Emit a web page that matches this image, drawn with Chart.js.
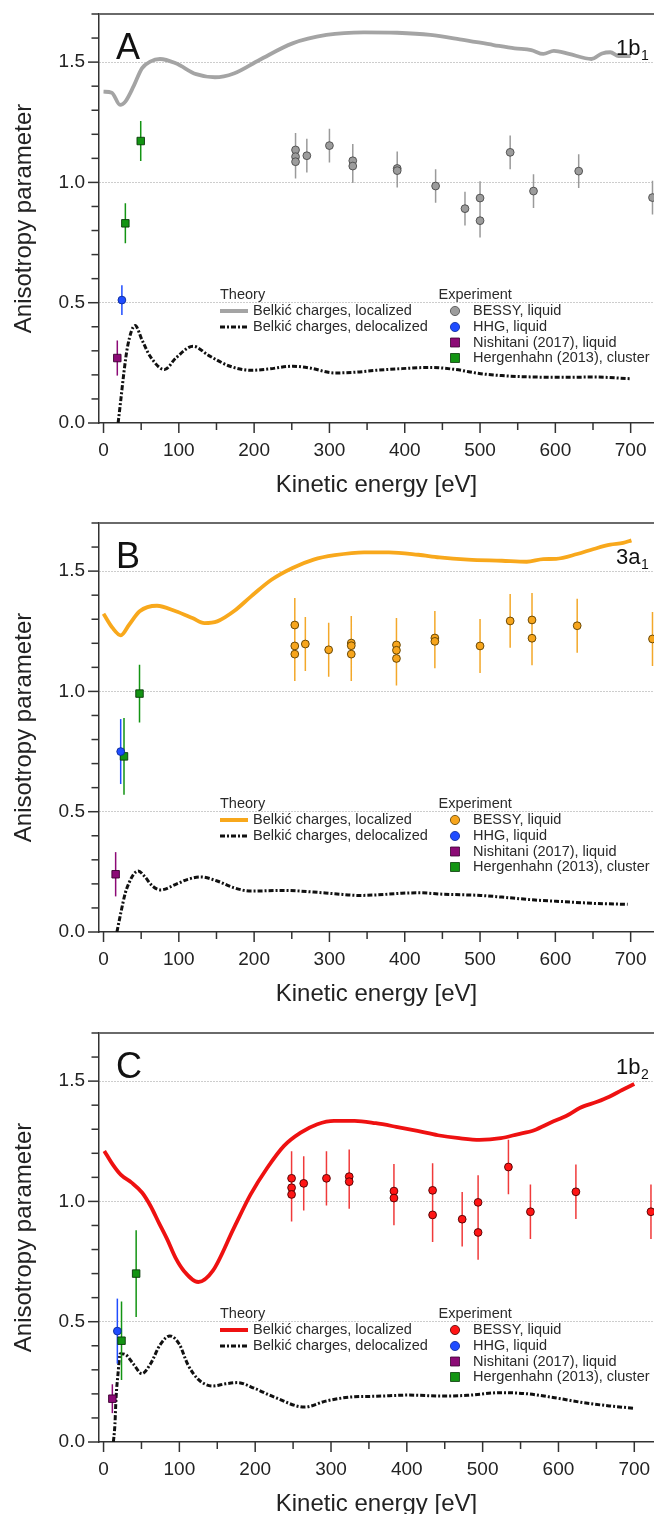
<!DOCTYPE html>
<html><head><meta charset="utf-8">
<script src="https://cdn.jsdelivr.net/npm/chart.js@4.4.0/dist/chart.umd.min.js"></script>
<style>
html,body{margin:0;padding:0;background:#fff;overflow:hidden;width:654px;height:1514px;position:relative;}
.p{position:absolute;left:0;width:654px;height:509px;}
canvas{display:block;}
</style></head><body>
<div class="p" style="top:0px"><canvas id="cA" width="654" height="509"></canvas></div>
<div class="p" style="top:509px"><canvas id="cB" width="654" height="509"></canvas></div>
<div class="p" style="top:1019px"><canvas id="cC" width="654" height="509"></canvas></div>
<script>
// ---------- tick values / labels ----------
const xTickValues = [0, 100, 200, 300, 400, 500, 600, 700];
const xMinorTicks = [50, 150, 250, 350, 450, 550, 650];
const yTickValues = [0, 0.5, 1.0, 1.5];
const yMinorTicks = [0.1, 0.2, 0.3, 0.4, 0.6, 0.7, 0.8, 0.9, 1.1, 1.2, 1.3, 1.4, 1.6, 1.7];
const xTitle = 'Kinetic energy [eV]';
const yTitle = 'Anisotropy parameter';
const theoryHeader = 'Theory';
const theoryLabels = ['Belkić charges, localized', 'Belkić charges, delocalized'];
const experimentHeader = 'Experiment';
const experimentLabels = ['BESSY, liquid', 'HHG, liquid', 'Nishitani (2017), liquid', 'Hergenhahn (2013), cluster'];

// ---------- Panel A (1b1) ----------
const locA_x = [0, 11, 22, 29, 40, 51, 62, 75, 96, 123, 148, 173, 207, 251, 296, 346, 390, 434, 473, 518, 546, 568, 584, 598, 618, 648, 662, 673, 684, 700];
const locA_y = [1.377, 1.373, 1.322, 1.336, 1.40, 1.474, 1.502, 1.513, 1.495, 1.45, 1.437, 1.453, 1.509, 1.578, 1.613, 1.624, 1.622, 1.613, 1.595, 1.571, 1.557, 1.55, 1.534, 1.547, 1.534, 1.513, 1.536, 1.541, 1.525, 1.525];
const delA_x = [19.4, 23, 27, 32, 42, 51, 62, 81, 96, 119, 140, 168, 196, 218, 251, 273, 307, 334, 362, 396, 434, 468, 501, 529, 573, 612, 651, 700];
const delA_y = [0, 0.097, 0.208, 0.319, 0.405, 0.346, 0.277, 0.222, 0.270, 0.319, 0.280, 0.236, 0.219, 0.224, 0.236, 0.229, 0.208, 0.211, 0.219, 0.226, 0.231, 0.222, 0.205, 0.197, 0.191, 0.190, 0.191, 0.184];
const bessyA_x = [255, 255, 255, 270, 300, 331, 331, 390, 390, 441, 480, 500, 500, 540, 571, 631, 729];
const bessyA_y = [1.135, 1.107, 1.086, 1.111, 1.153, 1.090, 1.068, 1.058, 1.049, 0.985, 0.891, 0.935, 0.841, 1.125, 0.964, 1.047, 0.937];
const bessyA_e = [0.07, 0.07, 0.07, 0.07, 0.07, 0.07, 0.07, 0.07, 0.07, 0.07, 0.07, 0.07, 0.07, 0.07, 0.07, 0.07, 0.07];
const hhgA_x = [24.4], hhgA_y = [0.511], hhgA_e = [0.062];
const nishA_x = [18.3], nishA_y = [0.270], nishA_e = [0.073];
const hergA_x = [29, 49.4], hergA_y = [0.83, 1.172], hergA_e = [0.083, 0.083];

// ---------- Panel B (3a1) ----------
const locB_x = [0, 12, 23, 34, 48, 71, 96, 118, 134, 151, 173, 196, 223, 251, 279, 307, 346, 379, 418, 446, 484, 529, 562, 584, 601, 629, 651, 673, 690, 701];
const locB_y = [1.323, 1.264, 1.233, 1.277, 1.333, 1.356, 1.333, 1.305, 1.284, 1.291, 1.333, 1.395, 1.464, 1.513, 1.548, 1.566, 1.578, 1.578, 1.568, 1.557, 1.548, 1.543, 1.539, 1.550, 1.551, 1.571, 1.592, 1.610, 1.617, 1.628];
const delB_x = [17.8, 23, 29, 34, 40, 46, 54, 65, 76, 96, 112, 129, 151, 173, 196, 240, 279, 307, 340, 362, 396, 418, 451, 501, 529, 573, 612, 651, 696];
const delB_y = [0, 0.080, 0.163, 0.205, 0.240, 0.254, 0.233, 0.191, 0.175, 0.198, 0.219, 0.229, 0.212, 0.184, 0.170, 0.173, 0.166, 0.159, 0.152, 0.154, 0.161, 0.163, 0.157, 0.152, 0.145, 0.133, 0.126, 0.119, 0.115];
const bessyB_x = [254, 254, 254, 268, 299, 329, 329, 329, 389, 389, 389, 440, 440, 500, 540, 569, 569, 629, 729];
const bessyB_y = [1.276, 1.189, 1.155, 1.197, 1.173, 1.201, 1.190, 1.155, 1.193, 1.171, 1.137, 1.222, 1.208, 1.189, 1.293, 1.297, 1.221, 1.273, 1.218];
const bessyB_e = [0.112, 0.112, 0.112, 0.112, 0.112, 0.112, 0.112, 0.112, 0.112, 0.112, 0.112, 0.112, 0.112, 0.112, 0.112, 0.112, 0.112, 0.112, 0.112];
const hhgB_x = [22.8], hhgB_y = [0.750], hhgB_e = [0.135];
const nishB_x = [16.1], nishB_y = [0.240], nishB_e = [0.092];
const hergB_x = [27.2, 47.8], hergB_y = [0.730, 0.991], hergB_e = [0.16, 0.12];

// ---------- Panel C (1b2) ----------
const locC_x = [1, 12, 23, 37, 51, 62, 73, 84, 95, 106, 125, 144, 172, 194, 216, 238, 260, 282, 304, 331, 359, 386, 414, 441, 469, 496, 524, 546, 568, 590, 612, 628, 651, 667, 684, 700];
const locC_y = [1.21, 1.154, 1.110, 1.078, 1.036, 0.981, 0.911, 0.842, 0.765, 0.711, 0.665, 0.711, 0.890, 1.029, 1.14, 1.231, 1.286, 1.321, 1.335, 1.335, 1.325, 1.31, 1.293, 1.275, 1.263, 1.256, 1.263, 1.279, 1.296, 1.328, 1.358, 1.388, 1.414, 1.435, 1.463, 1.488];
const delC_x = [13, 15, 16.5, 19, 22, 28.6, 39.6, 50.6, 61.6, 75, 87.5, 100, 111, 125, 144, 161, 177, 199, 227, 265, 293, 326, 359, 403, 447, 480, 524, 557, 595, 634, 667, 700];
const delC_y = [0, 0.073, 0.184, 0.281, 0.367, 0.364, 0.323, 0.284, 0.323, 0.406, 0.441, 0.406, 0.323, 0.260, 0.233, 0.242, 0.247, 0.223, 0.184, 0.145, 0.170, 0.187, 0.190, 0.195, 0.191, 0.194, 0.205, 0.201, 0.184, 0.163, 0.150, 0.140];
const bessyC_x = [248, 248, 248, 264, 294, 324, 324, 383, 383, 434, 434, 473, 494, 494, 534, 563, 623, 722];
const bessyC_y = [1.096, 1.057, 1.029, 1.075, 1.096, 1.103, 1.082, 1.043, 1.014, 1.046, 0.944, 0.926, 0.996, 0.871, 1.143, 0.957, 1.04, 0.957];
const bessyC_e = [0.113, 0.113, 0.113, 0.113, 0.113, 0.113, 0.113, 0.113, 0.113, 0.113, 0.113, 0.113, 0.113, 0.113, 0.113, 0.113, 0.113, 0.113];
const hhgC_x = [18.2], hhgC_y = [0.461], hhgC_e = [0.135];
const nishC_x = [11.6], nishC_y = [0.180], nishC_e = [0.06];
const hergC_x = [23.7, 43], hergC_y = [0.421, 0.700], hergC_e = [0.163, 0.18];

// ---------- styling ----------
const FONT = "'Liberation Sans', Arial, sans-serif";
Chart.defaults.font.family = FONT;
Chart.defaults.color = '#222';
const DASHDOT = [5, 2, 2, 2];
const HHG_COL = '#1f4cff', NISH_COL = '#8c0a76', HERG_COL = '#139413';

function pts(xs, ys) { return xs.map((x, i) => ({x: x, y: ys[i]})); }
function errBars(xs, ys, es) {
  const d = [];
  for (let i = 0; i < xs.length; i++) {
    d.push({x: xs[i], y: ys[i] - es[i]}, {x: xs[i], y: ys[i] + es[i]}, {x: xs[i], y: null});
  }
  return d;
}

const deco = {
  id: 'deco',
  afterDraw(chart, args, o) {
    const {ctx, chartArea: a} = chart;
    const xs = chart.scales.x, ys = chart.scales.y;
    ctx.save();
    // top frame
    ctx.strokeStyle = '#6a6a6a'; ctx.lineWidth = 2; ctx.setLineDash([]);
    ctx.beginPath(); ctx.moveTo(a.left, a.top); ctx.lineTo(a.right, a.top); ctx.stroke();
    // tick marks
    ctx.strokeStyle = '#333'; ctx.lineWidth = 1.5;
    const hl = (x1, y1, x2, y2) => { ctx.beginPath(); ctx.moveTo(x1, y1); ctx.lineTo(x2, y2); ctx.stroke(); };
    yTickValues.forEach(v => { const p = ys.getPixelForValue(v); hl(a.left - 11, p, a.left, p); });
    yMinorTicks.forEach(v => { const p = ys.getPixelForValue(v); hl(a.left - 7.5, p, a.left, p); });
    xTickValues.forEach(v => { const p = xs.getPixelForValue(v); hl(p, a.bottom, p, a.bottom + 10); });
    xMinorTicks.forEach(v => { const p = xs.getPixelForValue(v); hl(p, a.bottom, p, a.bottom + 7); });
    // panel letter
    ctx.fillStyle = '#111'; ctx.textBaseline = 'alphabetic'; ctx.textAlign = 'left';
    ctx.font = '36px ' + FONT;
    ctx.fillText(o.letter, 116, 59);
    // orbital label
    ctx.font = '22px ' + FONT;
    ctx.fillText(o.orb, 616, 54.5);
    const w = ctx.measureText(o.orb).width;
    ctx.font = '14px ' + FONT;
    ctx.fillText(o.sub, 616 + w + 0.5, 59.5);
    // legend
    ctx.font = '14.5px ' + FONT; ctx.fillStyle = '#2a2a2a'; ctx.textBaseline = 'middle';
    const rows = [294.5, 311, 327, 342.5, 358];
    ctx.fillText(theoryHeader, 220, rows[0]);
    ctx.strokeStyle = o.lineColor; ctx.lineWidth = 4;
    hl(220, rows[1], 248, rows[1]);
    ctx.fillText(theoryLabels[0], 253, rows[1]);
    ctx.strokeStyle = '#111'; ctx.lineWidth = 3; ctx.setLineDash(DASHDOT);
    hl(220, rows[2], 248, rows[2]);
    ctx.setLineDash([]);
    ctx.fillText(theoryLabels[1], 253, rows[2]);
    ctx.fillText(experimentHeader, 438.5, rows[0]);
    const mk = [
      {c: o.ptFill, e: o.ptEdge, s: 'c'},
      {c: HHG_COL, e: '#0a2a99', s: 'c'},
      {c: NISH_COL, e: '#3a0030', s: 'r'},
      {c: HERG_COL, e: '#0a3a0a', s: 'r'}
    ];
    mk.forEach((m, i) => {
      const yy = rows[i + 1];
      ctx.fillStyle = m.c; ctx.strokeStyle = m.e; ctx.lineWidth = 0.8;
      ctx.beginPath();
      if (m.s === 'c') ctx.arc(455, yy, 4.6, 0, Math.PI * 2);
      else ctx.rect(450.5, yy - 4.5, 9, 9);
      ctx.fill(); ctx.stroke();
      ctx.fillStyle = '#2a2a2a';
      ctx.fillText(experimentLabels[i], 473, yy);
    });
    ctx.restore();
  }
};

function build(id, P) {
  const ptDs = (xs, ys, fill, edge, style, r, order) => ({
    data: pts(xs, ys), showLine: false, pointStyle: style, pointRadius: r,
    pointBackgroundColor: fill, pointBorderColor: edge, pointBorderWidth: 0.9, order: order
  });
  const ebDs = (xs, ys, es, col, order) => ({
    data: errBars(xs, ys, es), showLine: true, spanGaps: false, borderColor: col, borderWidth: 1.5,
    pointRadius: 0, tension: 0, order: order
  });
  const datasets = [
    ptDs(P.bx, P.by, P.ptFill, P.ptEdge, 'circle', 3.9, 1),
    ptDs(P.hx, P.hy, HHG_COL, '#0a2a99', 'circle', 3.9, 2),
    ptDs(P.nx, P.ny, NISH_COL, '#3a0030', 'rect', 5.3, 3),
    ptDs(P.gx, P.gy, HERG_COL, '#0a3a0a', 'rect', 5.3, 4),
    ebDs(P.bx, P.by, P.be, P.errColor, 5),
    ebDs(P.hx, P.hy, P.he, HHG_COL, 6),
    ebDs(P.nx, P.ny, P.ne, NISH_COL, 7),
    ebDs(P.gx, P.gy, P.ge, HERG_COL, 8),
    {data: pts(P.lx, P.ly), showLine: true, borderColor: P.lineColor, borderWidth: 3.8, pointRadius: 0,
      cubicInterpolationMode: 'monotone', order: 9},
    {data: pts(P.dx, P.dy), showLine: true, borderColor: '#111', borderWidth: 3, borderDash: DASHDOT,
      pointRadius: 0, cubicInterpolationMode: 'monotone', order: 10}
  ];
  return new Chart(document.getElementById(id), {
    type: 'line',
    data: {datasets: datasets},
    plugins: [deco],
    options: {
      responsive: false, animation: false, devicePixelRatio: 1,
      layout: {autoPadding: false, padding: {top: 14, left: 0, right: 0, bottom: 0}},
      plugins: {legend: {display: false}, tooltip: {enabled: false},
        deco: {letter: P.letter, orb: P.orb, sub: P.sub, lineColor: P.lineColor, ptFill: P.ptFill, ptEdge: P.ptEdge}},
      scales: {
        x: {
          type: 'linear', min: P.xmin, max: P.xmax,
          afterFit: s => { s.height = 86; s.paddingLeft = 0; s.paddingRight = 0; },
          afterBuildTicks: s => { s.ticks = xTickValues.map(v => ({value: v})); },
          ticks: {font: {size: 19}, color: '#222', padding: 16, maxRotation: 0, autoSkip: false,
            callback: v => String(v)},
          grid: {display: false, drawTicks: false},
          border: {display: true, color: '#333', width: 1.5},
          title: {display: true, text: xTitle, font: {size: 24}, color: '#222', padding: {top: 0, bottom: 9}}
        },
        y: {
          type: 'linear', min: 0, max: 1.7,
          afterFit: s => { s.width = 99; s.paddingTop = 0; s.paddingBottom = 0; },
          afterBuildTicks: s => { s.ticks = yTickValues.map(v => ({value: v})); },
          ticks: {font: {size: 19}, color: '#222', padding: 14, callback: v => Number(v).toFixed(1)},
          grid: {display: true, drawTicks: false, lineWidth: 1,
            color: c => (c.tick && c.tick.value > 0) ? '#9a9a9a' : 'rgba(0,0,0,0)'},
          border: {display: true, color: '#333', width: 1.5, dash: [1, 2]},
          title: {display: true, text: yTitle, font: {size: 24}, color: '#222', padding: {top: 10, bottom: 0}}
        }
      }
    }
  });
}

build('cA', {letter: 'A', orb: '1b', sub: '1', xmin: -6, xmax: 731,
  lineColor: '#a4a4a4', ptFill: '#9c9c9c', ptEdge: '#4a4a4a', errColor: '#9a9a9a',
  lx: locA_x, ly: locA_y, dx: delA_x, dy: delA_y,
  bx: bessyA_x, by: bessyA_y, be: bessyA_e,
  hx: hhgA_x, hy: hhgA_y, he: hhgA_e, nx: nishA_x, ny: nishA_y, ne: nishA_e, gx: hergA_x, gy: hergA_y, ge: hergA_e});
build('cB', {letter: 'B', orb: '3a', sub: '1', xmin: -6, xmax: 731,
  lineColor: '#f8a81c', ptFill: '#f7a51c', ptEdge: '#5a3d00', errColor: '#f3a82a',
  lx: locB_x, ly: locB_y, dx: delB_x, dy: delB_y,
  bx: bessyB_x, by: bessyB_y, be: bessyB_e,
  hx: hhgB_x, hy: hhgB_y, he: hhgB_e, nx: nishB_x, ny: nishB_y, ne: nishB_e, gx: hergB_x, gy: hergB_y, ge: hergB_e});
build('cC', {letter: 'C', orb: '1b', sub: '2', xmin: -6, xmax: 726,
  lineColor: '#ee1111', ptFill: '#ff1515', ptEdge: '#4a0000', errColor: '#f03a3a',
  lx: locC_x, ly: locC_y, dx: delC_x, dy: delC_y,
  bx: bessyC_x, by: bessyC_y, be: bessyC_e,
  hx: hhgC_x, hy: hhgC_y, he: hhgC_e, nx: nishC_x, ny: nishC_y, ne: nishC_e, gx: hergC_x, gy: hergC_y, ge: hergC_e});
</script>
</body></html>
